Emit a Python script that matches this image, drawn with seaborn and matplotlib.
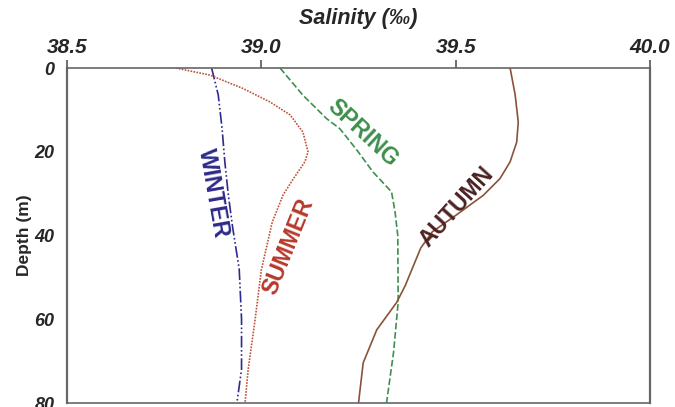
import matplotlib
matplotlib.use("Agg")
import matplotlib.pyplot as plt
import pandas as pd
import seaborn as sns

# Salinity profiles (‰) against depth (m)
winter_depth = [0, 6.4, 14.5, 22.4, 30.3, 38, 48, 60, 72, 80]
winter_sal = [38.872, 38.889, 38.899, 38.906, 38.915, 38.926, 38.943, 38.949,
              38.949, 38.937]

summer_depth = [0, 1.7, 4.9, 8.1, 11.2, 15.3, 20, 22.4, 26.5, 30.3, 36.8,
                48.2, 60, 72, 80]
summer_sal = [38.78, 38.868, 38.953, 39.022, 39.074, 39.107, 39.12, 39.112,
              39.082, 39.056, 39.028, 39.0, 38.984, 38.966, 38.958]

spring_depth = [0, 6.5, 12.1, 14.5, 19.5, 24.8, 29.6, 34.4, 40, 56, 68, 80]
spring_sal = [39.048, 39.107, 39.168, 39.202, 39.245, 39.287, 39.335, 39.344,
              39.351, 39.352, 39.34, 39.322]

autumn_depth = [0, 6.4, 12.9, 17.7, 22.4, 26.4, 30.4, 35.2, 39.1, 43, 47.5,
                52, 56, 62.5, 70.4, 80]
autumn_sal = [39.64, 39.653, 39.661, 39.657, 39.64, 39.614, 39.571, 39.5,
              39.44, 39.41, 39.39, 39.37, 39.348, 39.297, 39.262, 39.25]

seasons = ["WINTER", "SUMMER", "SPRING", "AUTUMN"]
line_colors = {"WINTER": "#2e2b8c", "SUMMER": "#c0533a",
               "SPRING": "#3f8f4f", "AUTUMN": "#8a5238"}
text_colors = {"WINTER": "#2e2a8a", "SUMMER": "#b5392a",
               "SPRING": "#3d8f4d", "AUTUMN": "#4a2222"}
dashes = {"WINTER": (7, 1.5, 1, 1.5, 1, 1.5), "SUMMER": (1, 0.8),
          "SPRING": (4, 1.6), "AUTUMN": ""}

# label anchor (salinity, depth) and rotation
label_pos = {"WINTER": (38.876, 29.8, -80), "SUMMER": (39.069, 42.7, 68),
             "SPRING": (39.26, 15.5, -43), "AUTUMN": (39.503, 33.2, 48)}

profiles = {
    "WINTER": (winter_sal, winter_depth),
    "SUMMER": (summer_sal, summer_depth),
    "SPRING": (spring_sal, spring_depth),
    "AUTUMN": (autumn_sal, autumn_depth),
}

sns.set_style("white")
plt.rcParams["font.family"] = ["Liberation Sans", "DejaVu Sans"]

fig = plt.figure(figsize=(6.75, 4.07), dpi=100)
ax = fig.add_axes([0.0993, 0.0098, 0.8637, 0.8231])

for s in seasons:
    sal, dep = profiles[s]
    df = pd.DataFrame({"sal": sal, "depth": dep})
    sns.lineplot(data=df, x="sal", y="depth", orient="y", sort=False, ax=ax,
                 color=line_colors[s], linewidth=1.2, dashes=False)
    line = ax.get_lines()[-1]
    if dashes[s]:
        line.set_dashes(dashes[s])
    x, y, rot = label_pos[s]
    ax.text(x, y, s, rotation=rot, ha="center", va="center",
            fontsize=16.5, fontweight="bold", color=text_colors[s],
            rotation_mode="anchor")

ax.set_xlim(38.5, 40.0)
ax.set_ylim(80, 0)
ax.set_xticks([38.5, 39.0, 39.5, 40.0])
ax.set_xticklabels(["38.5", "39.0", "39.5", "40.0"])
ax.set_yticks([0, 20, 40, 60, 80])
ax.xaxis.tick_top()
ax.xaxis.set_label_position("top")
ax.tick_params(axis="x", direction="out", length=6, width=1.2, color="#555555",
               labelsize=15, pad=2)
ax.tick_params(axis="y", direction="out", length=7, width=1.2, color="#555555",
               labelsize=13, pad=2)
for lab in ax.get_xticklabels() + ax.get_yticklabels():
    lab.set_fontweight("bold")
    lab.set_fontstyle("italic")
    lab.set_color("#262626")

ax.set_xlabel("Salinity (‰)", fontsize=15.5, fontweight="bold", fontstyle="italic",
              color="#262626", labelpad=10)
ax.set_ylabel("Depth (m)", fontsize=12.5, fontweight="bold", color="#262626",
              labelpad=2)

for side, sp in ax.spines.items():
    sp.set_visible(True)
    sp.set_color("#666666")
    sp.set_linewidth(1.6 if side in ("left", "right") else 1.2)

fig.savefig("out.png", dpi=100)
